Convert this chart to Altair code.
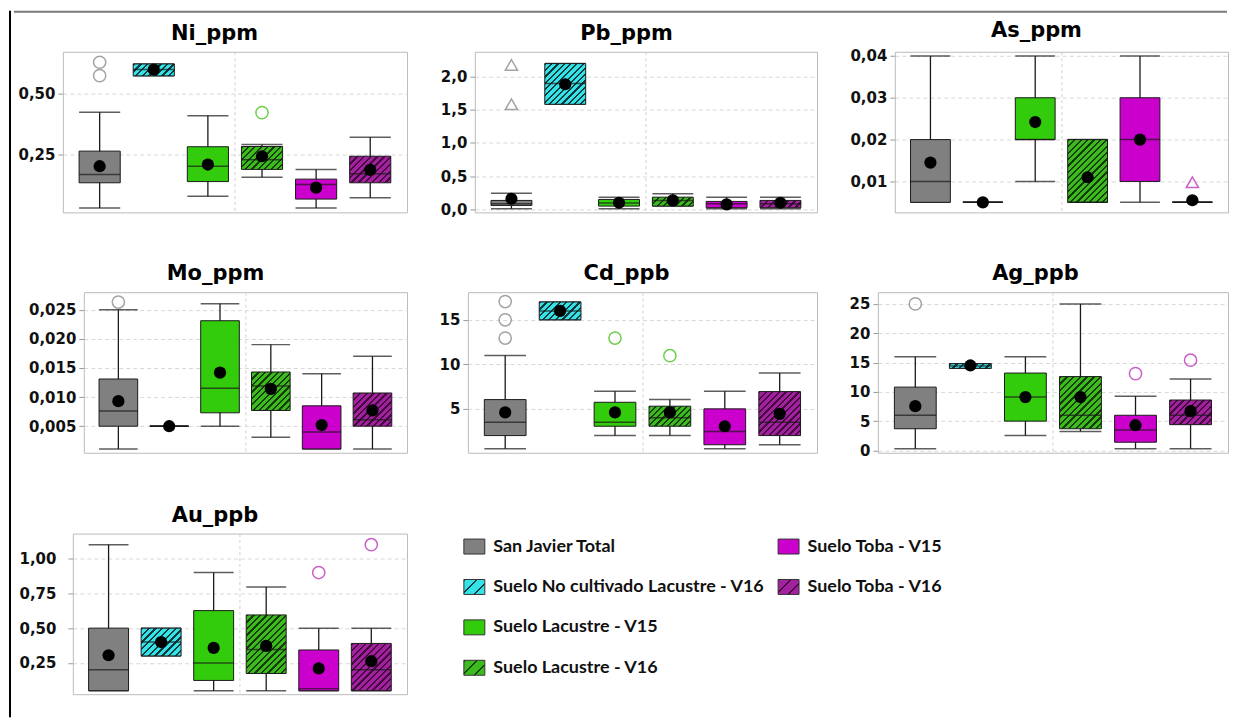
import altair as alt
import pandas as pd

# ---------------- categories & styling ----------------
GROUPS = ["San Javier Total", "Suelo No cultivado Lacustre - V16", "Suelo Lacustre - V15",
          "Suelo Lacustre - V16", "Suelo Toba - V15", "Suelo Toba - V16"]
FILL_BASE = ["#808080", "#35e2e8", "#33cc0c", "#3dbb1e", "#cc00cc", "#a2219f"]
FILL_STRIPE = [None, "#0f3b3d", None, "#143d08", None, "#45093f"]
OUT_COLOR = ["#a3a3a3", "#35c8cc", "#6fcf4f", "#6fcf4f", "#c95fc9", "#c95fc9"]

# ---------------- data ----------------
# Ni_ppm
NI_LOW = [0.031, 0.574, 0.080, 0.158, 0.031, 0.074]
NI_Q1 = [0.135, 0.574, 0.140, 0.190, 0.068, 0.135]
NI_MED = [0.169, 0.600, 0.203, 0.230, 0.128, 0.172]
NI_Q3 = [0.265, 0.623, 0.283, 0.284, 0.150, 0.244]
NI_HIGH = [0.425, 0.623, 0.410, 0.292, 0.190, 0.322]
NI_MEAN = [0.203, 0.600, 0.210, 0.244, 0.115, 0.188]
NI_OUT_GRP = [0, 0, 3]
NI_OUT_VAL = [0.575, 0.630, 0.423]
NI_OUT_SHAPE = ["circle", "circle", "circle"]

# Pb_ppm
PB_LOW = [0.015, 1.58, 0.015, 0.054, 0.015, 0.015]
PB_Q1 = [0.064, 1.58, 0.054, 0.054, 0.030, 0.030]
PB_MED = [0.090, 1.89, 0.100, 0.139, 0.090, 0.090]
PB_Q3 = [0.139, 2.19, 0.154, 0.188, 0.124, 0.139]
PB_HIGH = [0.248, 2.19, 0.188, 0.239, 0.188, 0.188]
PB_MEAN = [0.164, 1.88, 0.104, 0.140, 0.080, 0.104]
PB_OUT_GRP = [0, 0]
PB_OUT_VAL = [1.58, 2.17]
PB_OUT_SHAPE = ["triangle-up", "triangle-up"]

# As_ppm
AS_LOW = [0.005, 0.005, 0.010, 0.005, 0.005, 0.005]
AS_Q1 = [0.005, 0.005, 0.020, 0.005, 0.010, 0.005]
AS_MED = [0.010, 0.005, 0.020, 0.005, 0.020, 0.005]
AS_Q3 = [0.020, 0.005, 0.030, 0.020, 0.030, 0.005]
AS_HIGH = [0.040, 0.005, 0.040, 0.020, 0.040, 0.005]
AS_MEAN = [0.0145, 0.005, 0.0242, 0.011, 0.020, 0.0055]
AS_OUT_GRP = [5]
AS_OUT_VAL = [0.0098]
AS_OUT_SHAPE = ["triangle-up"]

# Mo_ppm
MO_LOW = [0.0011, 0.005, 0.005, 0.0031, 0.0011, 0.0011]
MO_Q1 = [0.005, 0.005, 0.0073, 0.0077, 0.0011, 0.005]
MO_MED = [0.0076, 0.005, 0.0115, 0.0119, 0.0040, 0.0061]
MO_Q3 = [0.0131, 0.005, 0.0231, 0.0143, 0.0085, 0.0107]
MO_HIGH = [0.025, 0.005, 0.026, 0.019, 0.014, 0.017]
MO_MEAN = [0.0093, 0.005, 0.0142, 0.0114, 0.0052, 0.0077]
MO_OUT_GRP = [0]
MO_OUT_VAL = [0.0263]
MO_OUT_SHAPE = ["circle"]

# Cd_ppb
CD_LOW = [0.52, 15.0, 2.0, 2.0, 0.52, 0.97]
CD_Q1 = [2.0, 15.0, 3.05, 3.05, 0.97, 2.0]
CD_MED = [3.5, 16.0, 3.5, 4.0, 2.46, 3.5]
CD_Q3 = [6.04, 17.0, 5.74, 5.3, 5.0, 6.94]
CD_HIGH = [11.0, 17.0, 6.97, 6.04, 6.97, 9.03]
CD_MEAN = [4.6, 16.0, 4.6, 4.6, 3.05, 4.44]
CD_OUT_GRP = [0, 0, 0, 2, 3]
CD_OUT_VAL = [17.05, 15.0, 12.95, 12.95, 10.97]
CD_OUT_SHAPE = ["circle"] * 5

# Ag_ppb
AG_LOW = [0.3, 14.0, 2.55, 3.24, 0.3, 0.3]
AG_Q1 = [3.7, 14.0, 5.0, 3.7, 1.4, 4.4]
AG_MED = [6.0, 14.4, 9.1, 6.0, 3.5, 6.0]
AG_Q3 = [10.8, 14.8, 13.2, 12.6, 6.0, 8.6]
AG_HIGH = [16.0, 14.8, 16.0, 25.0, 9.25, 12.2]
AG_MEAN = [7.55, 14.5, 9.1, 9.1, 4.3, 6.7]
AG_OUT_GRP = [0, 4, 5]
AG_OUT_VAL = [25.0, 13.1, 15.4]
AG_OUT_SHAPE = ["circle"] * 3

# Au_ppb
AU_LOW = [0.05, 0.30, 0.05, 0.05, 0.05, 0.05]
AU_Q1 = [0.05, 0.30, 0.124, 0.174, 0.05, 0.05]
AU_MED = [0.20, 0.40, 0.25, 0.346, 0.065, 0.20]
AU_Q3 = [0.50, 0.50, 0.626, 0.595, 0.343, 0.39]
AU_HIGH = [1.10, 0.50, 0.90, 0.796, 0.50, 0.50]
AU_MEAN = [0.305, 0.40, 0.358, 0.372, 0.21, 0.262]
AU_OUT_GRP = [4, 5]
AU_OUT_VAL = [0.90, 1.10]
AU_OUT_SHAPE = ["circle", "circle"]

# legend
LEG_COL = [0, 0, 0, 0, 1, 1]
LEG_ROW = [0, 1, 2, 3, 0, 1]

# ---------------- layout constants ----------------
PLOT_H = 161
PAD_OUTER = 0.18
TOP_GAP = 7
ROW_SPACING = 44
LEFT_LINE_H = 708
TITLE_FONT = "DejaVu Sans"


def fmt_expr(f):
    return f"replace(format(datum.value, '{f}'), '.', ',')"


def hatch(base, dark, W, H, period=6.5, duty=0.35):
    if H < 0.5:
        return base
    n = max(1, round((W + H) / period))
    a = (W + H) / (W * W + H * H)
    stops = []
    for k in range(n):
        s = round(k / n, 4)
        e = round((k + duty) / n, 4)
        f = round((k + 1) / n, 4)
        stops += [alt.GradientStop(offset=s, color=dark), alt.GradientStop(offset=e, color=dark),
                  alt.GradientStop(offset=e, color=base), alt.GradientStop(offset=f, color=base)]
    return alt.LinearGradient(gradient="linear", stops=stops, x1=0, y1=0,
                              x2=round(W * a, 4), y2=round(H * a, 4))


def title_params(text, dx):
    return alt.TitleParams(text=text, font=TITLE_FONT, fontSize=21, fontWeight="bold",
                           color="#000000", anchor="middle", frame="group", dx=dx, offset=8)


def make_panel(title, low, q1, med, q3, high, mean, out_grp, out_val, out_shape,
               dom, ticks, fmt, extent, width, plot_left, title_center, label_pad=3):
    df = pd.DataFrame(dict(grp=GROUPS, low=low, q1=q1, med=med, q3=q3, high=high, mean=mean))
    dfo = pd.DataFrame(dict(grp=[GROUPS[i] for i in out_grp], val=out_val, shp=out_shape,
                            col=[OUT_COLOR[i] for i in out_grp]))
    step = width / (len(GROUPS) + 2 * PAD_OUTER)
    bw = round(0.76 * step, 2)
    xenc = alt.X("grp:N", scale=alt.Scale(domain=GROUPS, paddingInner=0, paddingOuter=PAD_OUTER),
                 axis=alt.Axis(values=[GROUPS[2]], bandPosition=1, grid=True, gridColor="#d0d0d0",
                               gridDash=[3, 3], labels=False, ticks=False, domain=False, title=None,
                               minExtent=0, maxExtent=0))
    ysc = alt.Scale(domain=dom, nice=False, zero=False)
    yax = alt.Axis(values=ticks, labelExpr=fmt_expr(fmt), grid=True, gridColor="#d8d8d8",
                   gridDash=[4, 3], domain=False, tickSize=5, tickColor="#9a9a9a",
                   labelFont=TITLE_FONT, labelFontWeight="bold", labelFontSize=15,
                   labelColor="#111111", labelPadding=label_pad, labelOverlap=False,
                   minExtent=extent, maxExtent=extent, title=None)

    def Y(f):
        return alt.Y(f"{f}:Q", scale=ysc, axis=yax)

    base = alt.Chart(df)
    layers = [
        base.mark_rule(color="#1a1a1a", strokeWidth=1.3).encode(x=xenc, y=Y("low"), y2=alt.Y2("high")),
        base.mark_tick(color="#1a1a1a", size=bw, thickness=1.5).encode(x=xenc, y=Y("low")),
        base.mark_tick(color="#1a1a1a", size=bw, thickness=1.5).encode(x=xenc, y=Y("high")),
    ]
    for i, g in enumerate(GROUPS):
        if FILL_STRIPE[i]:
            H = abs(q3[i] - q1[i]) / (dom[1] - dom[0]) * PLOT_H
            fill = hatch(FILL_BASE[i], FILL_STRIPE[i], bw, H)
        else:
            fill = FILL_BASE[i]
        layers.append(
            base.transform_filter(alt.datum.grp == g)
            .mark_bar(fill=fill, stroke="#1a1a1a", strokeWidth=1, size=bw, opacity=1)
            .encode(x=xenc, y=Y("q1"), y2=alt.Y2("q3"))
        )
    layers += [
        base.mark_tick(color="#1a1a1a", size=bw, thickness=1.5).encode(x=xenc, y=Y("med")),
        base.mark_circle(size=150, color="#000000", opacity=1).encode(x=xenc, y=Y("mean")),
        alt.Chart(dfo).mark_point(filled=False, size=150, strokeWidth=1.5, opacity=1).encode(
            x=xenc, y=Y("val"),
            shape=alt.Shape("shp:N", scale=alt.Scale(domain=["circle", "triangle-up"],
                                                     range=["circle", "triangle-up"]), legend=None),
            stroke=alt.Stroke("col:N", scale=None)),
    ]
    dx = round(title_center - (plot_left + width / 2), 1)
    return alt.layer(*layers).properties(width=width, height=PLOT_H, title=title_params(title, dx))


ni = make_panel("Ni_ppm", NI_LOW, NI_Q1, NI_MED, NI_Q3, NI_HIGH, NI_MEAN, NI_OUT_GRP, NI_OUT_VAL,
                NI_OUT_SHAPE, [0.0135, 0.673], [0.25, 0.5], ".2f", 46, 345, 60, 212)
pb = make_panel("Pb_ppm", PB_LOW, PB_Q1, PB_MED, PB_Q3, PB_HIGH, PB_MEAN, PB_OUT_GRP, PB_OUT_VAL,
                PB_OUT_SHAPE, [-0.04, 2.367], [0, 0.5, 1.0, 1.5, 2.0], ".1f", 66, 343, 472, 624)
as_ = make_panel("As_ppm", AS_LOW, AS_Q1, AS_MED, AS_Q3, AS_HIGH, AS_MEAN, AS_OUT_GRP, AS_OUT_VAL,
                 AS_OUT_SHAPE, [0.0026, 0.041], [0.01, 0.02, 0.03, 0.04], ".2f", 76, 334, 892, 1034)
mo = make_panel("Mo_ppm", MO_LOW, MO_Q1, MO_MED, MO_Q3, MO_HIGH, MO_MEAN, MO_OUT_GRP, MO_OUT_VAL,
                MO_OUT_SHAPE, [0.00044, 0.028], [0.005, 0.01, 0.015, 0.02, 0.025], ".3f", 60, 324, 81, 213)
cd = make_panel("Cd_ppb", CD_LOW, CD_Q1, CD_MED, CD_Q3, CD_HIGH, CD_MEAN, CD_OUT_GRP, CD_OUT_VAL,
                CD_OUT_SHAPE, [0.07, 18.1], [5, 10, 15], "d", 59, 350, 465, 624)
ag = make_panel("Ag_ppb", AG_LOW, AG_Q1, AG_MED, AG_Q3, AG_HIGH, AG_MEAN, AG_OUT_GRP, AG_OUT_VAL,
                AG_OUT_SHAPE, [-0.4, 27.0], [0, 5, 10, 15, 20, 25], "d", 59, 351, 875, 1033)
au = make_panel("Au_ppb", AU_LOW, AU_Q1, AU_MED, AU_Q3, AU_HIGH, AU_MEAN, AU_OUT_GRP, AU_OUT_VAL,
                AU_OUT_SHAPE, [0.025, 1.18], [0.25, 0.5, 0.75, 1.0], ".2f", 56, 335, 70, 212.5,
                label_pad=12)

# ---------------- legend ----------------
RECT_PATH = "M-1,-0.7143L1,-0.7143L1,0.7143L-1,0.7143Z"
dleg = pd.DataFrame(dict(name=GROUPS, col=LEG_COL, row=LEG_ROW))
lx = alt.X("col:Q", scale=alt.Scale(domain=[-0.2079, 2.3794], nice=False, zero=False), axis=None)
ly = alt.Y("row:Q", scale=alt.Scale(domain=[-0.321, 3.654], nice=False, zero=False, reverse=True), axis=None)
leg_layers = []
lbase = alt.Chart(dleg)
for i, g in enumerate(GROUPS):
    fill = hatch(FILL_BASE[i], FILL_STRIPE[i], 21, 15, period=12, duty=0.18) if FILL_STRIPE[i] else FILL_BASE[i]
    leg_layers.append(
        lbase.transform_filter(alt.datum.name == g)
        .mark_point(shape=RECT_PATH, size=441, filled=True, fill=fill, stroke="#333333",
                    strokeWidth=1, opacity=1)
        .encode(x=lx, y=ly)
    )
leg_layers.append(
    lbase.mark_text(align="left", baseline="middle", dx=19, fontSize=18,
                    font="Lato", fontWeight="bold", color="#111111")
    .encode(x=lx, y=ly, text="name:N")
)
legend = alt.layer(*leg_layers).properties(
    width=815, height=PLOT_H, title=title_params(" ", 0),
    view=alt.ViewBackground(stroke="transparent"))

# ---------------- frame lines & spacers ----------------
dummy = pd.DataFrame({"k": [0]})


def spacer(w):
    return alt.Chart(dummy).mark_rule(opacity=0, strokeWidth=0).encode(
        x=alt.value(0), y=alt.value(0), y2=alt.value(1)
    ).properties(width=w, height=PLOT_H, view=alt.ViewBackground(stroke="transparent"))


topline = alt.Chart(dummy).mark_rule(color="#7a7a7a", strokeWidth=2).encode(
    x=alt.value(0), x2=alt.value(1216), y=alt.value(1)
).properties(width=1216, height=TOP_GAP, view=alt.ViewBackground(stroke="transparent"))
leftline = alt.Chart(dummy).mark_rule(color="#000000", strokeWidth=2).encode(
    x=alt.value(1), y=alt.value(0), y2=alt.value(LEFT_LINE_H)
).properties(width=2, height=LEFT_LINE_H, view=alt.ViewBackground(stroke="transparent"))

row1 = alt.hconcat(spacer(1.5), ni, pb, as_, spacing=0)
row2 = alt.hconcat(spacer(8.5), mo, cd, ag, spacing=0)
row3 = alt.hconcat(spacer(1.5), au, legend, spacing=0)
rows = alt.vconcat(row1, row2, row3, spacing=ROW_SPACING)
main = alt.vconcat(topline, rows, spacing=0)

chart = alt.hconcat(leftline, main, spacing=0).properties(
    padding={"left": 0, "top": 0, "right": 0, "bottom": 0}
).configure_view(stroke="#bcbcbc", strokeWidth=1)

chart.save("out.html", embed_options={"renderer": "svg", "actions": False})
